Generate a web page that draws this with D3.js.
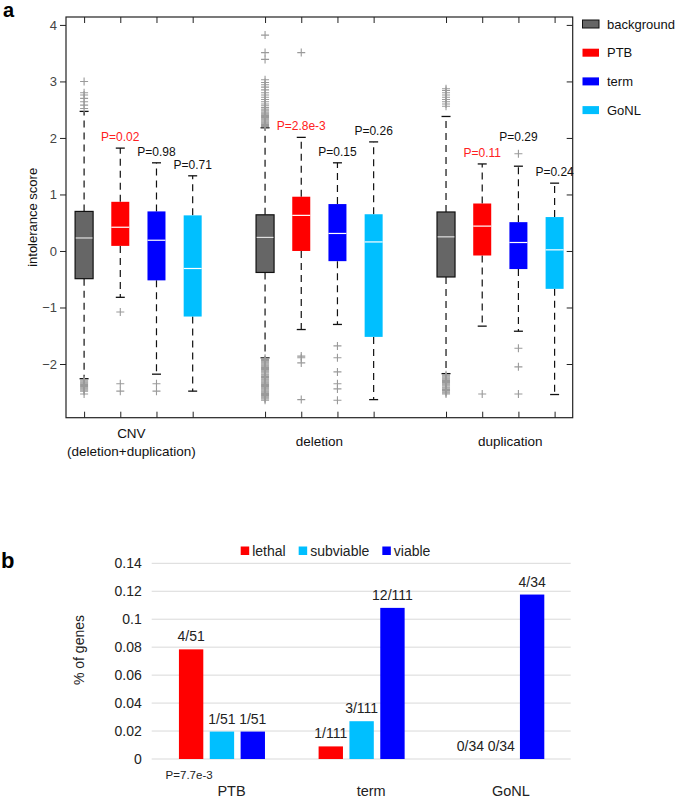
<!DOCTYPE html>
<html><head><meta charset="utf-8">
<script src="https://cdn.jsdelivr.net/npm/d3@7"></script>
<style>
body{margin:0;background:#fff;}
svg{font-family:"Liberation Sans",Arial,Helvetica,sans-serif;}
</style></head>
<body><svg id="c" width="680" height="800"></svg>
<script>
// ---------- Panel a data ----------
const groupsA = ["CNV|(deletion+duplication)", "deletion", "duplication"];
const seriesA = ["background", "PTB", "term", "GoNL"];
const colorsA = ["#666666", "#ff0000", "#0000ff", "#00bfff"];
const yTicksA = [-2, -1, 0, 1, 2, 3, 4];
// per group, per series
const q3 = [[0.70, 0.87, 0.70, 0.63], [0.64, 0.96, 0.83, 0.65], [0.69, 0.84, 0.51, 0.60]];
const med = [[0.23, 0.42, 0.19, -0.31], [0.24, 0.63, 0.31, 0.16], [0.25, 0.44, 0.15, 0.02]];
const q1 = [[-0.49, 0.09, -0.52, -1.16], [-0.38, 0.00, -0.18, -1.52], [-0.46, -0.08, -0.32, -0.67]];
const whiskHi = [[2.47, 1.82, 1.56, 1.33], [2.18, 2.01, 1.56, 1.93], [2.38, 1.54, 1.50, 1.20]];
const whiskLo = [[-2.26, -0.82, -2.18, -2.48], [-1.89, -1.39, -1.30, -2.63], [-2.17, -1.33, -1.42, -2.54]];
const outliers = [
  [
    [3.00, 2.80, 2.76, 2.70, 2.64, 2.58, 2.52, -2.28, -2.30, -2.32, -2.34, -2.36, -2.38, -2.40, -2.42, -2.44, -2.46, -2.48, -2.53],
    [-1.08, -2.35, -2.48],
    [-2.35, -2.48],
    []
  ],
  [
    [3.82, 3.51, 3.39, 3.03, 2.98, 2.94, 2.90, 2.85, 2.80, 2.76, 2.72, 2.68, 2.64, 2.60, 2.57, 2.54, 2.51, 2.48, 2.46, 2.44, 2.42, 2.40, 2.38, 2.36, 2.34, 2.32, 2.30, 2.28, 2.26, 2.24, 2.22, 2.20,
     -1.90, -1.92, -1.94, -1.96, -1.98, -2.00, -2.02, -2.04, -2.06, -2.08, -2.10, -2.12, -2.14, -2.16, -2.18, -2.20, -2.22, -2.24, -2.26, -2.28, -2.30, -2.32, -2.34, -2.36, -2.38, -2.40, -2.42, -2.44, -2.46, -2.48, -2.50, -2.52, -2.54, -2.56, -2.58, -2.60, -2.62, -2.64],
    [3.51, -1.86, -1.89, -1.98, -2.63],
    [-1.68, -1.89, -2.14, -2.35, -2.44, -2.64],
    []
  ],
  [
    [2.87, 2.84, 2.80, 2.76, 2.72, 2.68, 2.64, 2.60, 2.56,
     -2.19, -2.21, -2.23, -2.25, -2.27, -2.29, -2.31, -2.33, -2.35, -2.37, -2.39, -2.41, -2.43, -2.45, -2.47, -2.49, -2.51, -2.53],
    [-2.53],
    [1.72, -1.72, -2.05, -2.53],
    []
  ]
];
const pLabels = [["", "P=0.02", "P=0.98", "P=0.71"], ["", "P=2.8e-3", "P=0.15", "P=0.26"], ["", "P=0.11", "P=0.29", "P=0.24"]];
const pSignif = [[false, true, false, false], [false, true, false, false], [false, true, false, false]];

// ---------- Panel b data ----------
const groupsB = ["PTB", "term", "GoNL"];
const seriesB = ["lethal", "subviable", "viable"];
const colorsB = ["#ff0000", "#00bfff", "#0000ff"];
const countsB = [[4, 1, 1], [1, 3, 12], [0, 0, 4]];
const totalsB = [51, 111, 34];
const yTicksB = [0, 0.02, 0.04, 0.06, 0.08, 0.1, 0.12, 0.14];
const pNoteB = "P=7.7e-3";

const svg = d3.select("#c");

// ================= Panel a =================
const A = {l: 66, r: 572.7, t: 17, b: 417.7};
const x = d3.scaleLinear().domain([0.5, 14.5]).range([A.l, A.r]);
const y = d3.scaleLinear().domain([-2.95, 4.14]).range([A.b, A.t]);
const pos = (g, s) => g * 5 + s + 1;
const boxW = 18, capW = 9;

svg.append("text").attr("x", 3).attr("y", 17).attr("font-size", 20).attr("font-weight", "bold").text("a");

const ga = svg.append("g");
ga.append("rect").attr("x", A.l).attr("y", A.t).attr("width", A.r - A.l).attr("height", A.b - A.t)
  .attr("fill", "none").attr("stroke", "#222").attr("stroke-width", 1.2);

const yAxisL = d3.axisLeft(y).tickValues(yTicksA).tickSize(6).tickPadding(3).tickFormat(d3.format("d"));
const gL = ga.append("g").attr("transform", `translate(${A.l},0)`).call(yAxisL);
gL.select(".domain").remove();
gL.selectAll("line").attr("stroke", "#222");
gL.selectAll("text").attr("font-size", 13).attr("fill", "#444").attr("font-family", "Liberation Sans, Arial, sans-serif");
const gR = ga.append("g").attr("transform", `translate(${A.r},0)`).call(d3.axisRight(y).tickValues(yTicksA).tickSize(-6).tickFormat(""));
gR.select(".domain").remove();
gR.selectAll("line").attr("stroke", "#222");
const allPos = [];
groupsA.forEach((g, gi) => seriesA.forEach((s, si) => allPos.push(pos(gi, si))));
const gT = ga.append("g").attr("transform", `translate(0,${A.t})`).call(d3.axisTop(x).tickValues(allPos).tickSize(-6).tickFormat(""));
gT.select(".domain").remove(); gT.selectAll("line").attr("stroke", "#222");
const gB = ga.append("g").attr("transform", `translate(0,${A.b})`).call(d3.axisBottom(x).tickValues(allPos).tickSize(-6).tickFormat(""));
gB.select(".domain").remove(); gB.selectAll("line").attr("stroke", "#222");

ga.append("text").attr("transform", `translate(37,${(A.t + A.b) / 2}) rotate(-90)`).attr("text-anchor", "middle")
  .attr("font-size", 13).attr("fill", "#111").text("intolerance score");

groupsA.forEach((g, gi) => {
  seriesA.forEach((s, si) => {
    const cx = x(pos(gi, si));
    const gg = ga.append("g");
    gg.append("line").attr("x1", cx).attr("x2", cx).attr("y1", y(q3[gi][si])).attr("y2", y(whiskHi[gi][si]))
      .attr("stroke", "#111").attr("stroke-width", 1.2).attr("stroke-dasharray", "7,5");
    gg.append("line").attr("x1", cx).attr("x2", cx).attr("y1", y(q1[gi][si])).attr("y2", y(whiskLo[gi][si]))
      .attr("stroke", "#111").attr("stroke-width", 1.2).attr("stroke-dasharray", "7,5");
    [whiskHi[gi][si], whiskLo[gi][si]].forEach(v => {
      gg.append("line").attr("x1", cx - capW / 2).attr("x2", cx + capW / 2).attr("y1", y(v)).attr("y2", y(v))
        .attr("stroke", "#111").attr("stroke-width", 1.3);
    });
    gg.append("rect").attr("x", cx - boxW / 2).attr("width", boxW)
      .attr("y", y(q3[gi][si])).attr("height", y(q1[gi][si]) - y(q3[gi][si]))
      .attr("fill", colorsA[si]).attr("stroke", si === 0 ? "#111" : "none").attr("stroke-width", 1.2);
    gg.append("line").attr("x1", cx - boxW / 2 + (si === 0 ? 0.6 : 0)).attr("x2", cx + boxW / 2 - (si === 0 ? 0.6 : 0))
      .attr("y1", y(med[gi][si])).attr("y2", y(med[gi][si]))
      .attr("stroke", si === 0 ? "#e0e0e0" : "#ffffff").attr("stroke-width", 1.2);
    outliers[gi][si].forEach(v => {
      const py = y(v);
      gg.append("path").attr("d", `M${cx - 4},${py}H${cx + 4}M${cx},${py - 4}V${py + 4}`)
        .attr("stroke", "#9a9a9a").attr("stroke-width", 1.1).attr("fill", "none");
    });
    if (pLabels[gi][si]) {
      const near = outliers[gi][si].filter(v => v > whiskHi[gi][si] && v < whiskHi[gi][si] + 0.5);
      const top = near.length ? d3.max(near) : whiskHi[gi][si];
      const off = near.length ? 13 : 7;
      ga.append("text").attr("x", cx).attr("y", y(top) - off).attr("text-anchor", "middle")
        .attr("font-size", 12).attr("fill", pSignif[gi][si] ? "#ff2020" : "#111").text(pLabels[gi][si]);
    }
  });
  const lines = g.split("|");
  const gcx = (x(pos(gi, 0)) + x(pos(gi, 3))) / 2 + [-7, 0, 10][gi];
  lines.forEach((ln, li) => {
    ga.append("text").attr("x", gcx).attr("y", (lines.length > 1 ? 438 : 446) + li * 17.5).attr("text-anchor", "middle")
      .attr("font-size", 13.5).attr("fill", "#111").text(ln);
  });
});

seriesA.forEach((s, i) => {
  const ly = 24 + i * 28.7;
  ga.append("rect").attr("x", 582.5).attr("y", ly - 4).attr("width", 16.5).attr("height", 8)
    .attr("fill", colorsA[i]).attr("stroke", i === 0 ? "#111" : "none").attr("stroke-width", 1);
  ga.append("text").attr("x", 607).attr("y", ly + 4.5).attr("font-size", 13).attr("fill", "#111").text(s);
});

// ================= Panel b =================
const B = {l: 151.7, r: 570.7, t: 563.3, b: 759};
const x0 = d3.scaleBand().domain(groupsB).range([B.l, B.r]).padding(0);
const x1 = d3.scaleBand().domain(seriesB).range([x0.bandwidth() * 0.195, x0.bandwidth() * 0.811]).paddingInner(0.21).paddingOuter(0);
const yb = d3.scaleLinear().domain([0, 0.14]).range([B.b, B.t]);

svg.append("text").attr("x", 1).attr("y", 568).attr("font-size", 22).attr("font-weight", "bold").text("b");

const gb = svg.append("g");
gb.selectAll("line.grid").data(yTicksB).join("line").attr("class", "grid")
  .attr("x1", B.l).attr("x2", B.r).attr("y1", d => yb(d)).attr("y2", d => yb(d))
  .attr("stroke", "#d9d9d9").attr("stroke-width", 1);
const gyb = gb.append("g").attr("transform", `translate(${B.l - 10},0)`)
  .call(d3.axisLeft(yb).tickValues(yTicksB).tickSize(0).tickPadding(0).tickFormat(d => d === 0 ? "0" : String(+d.toFixed(2))));
gyb.select(".domain").remove();
gyb.selectAll("text").attr("font-size", 14).attr("fill", "#222").attr("font-family", "Liberation Sans, Arial, sans-serif");
gb.append("text").attr("transform", `translate(84,650) rotate(-90)`).attr("text-anchor", "middle")
  .attr("font-size", 14).attr("fill", "#222").text("% of genes");

groupsB.forEach((g, gi) => {
  seriesB.forEach((s, si) => {
    const v = countsB[gi][si] / totalsB[gi];
    const bx = x0(g) + x1(s);
    gb.append("rect").attr("x", bx).attr("width", x1.bandwidth()).attr("y", yb(v)).attr("height", yb(0) - yb(v))
      .attr("fill", colorsB[si]);
    gb.append("text").attr("x", bx + x1.bandwidth() / 2).attr("y", yb(v) - 8).attr("text-anchor", "middle")
      .attr("font-size", 14).attr("fill", "#222").text(`${countsB[gi][si]}/${totalsB[gi]}`);
  });
  gb.append("text").attr("x", x0(g) + x0.bandwidth() / 2 + 10).attr("y", 796).attr("text-anchor", "middle")
    .attr("font-size", 14.5).attr("fill", "#222").text(g);
});
gb.append("text").attr("x", x0("PTB") + x1("lethal") + x1.bandwidth() / 2 - 2).attr("y", 779).attr("text-anchor", "middle")
  .attr("font-size", 11.5).attr("fill", "#222").text(pNoteB);

let lx = 240.7;
seriesB.forEach((s, i) => {
  gb.append("rect").attr("x", lx).attr("y", 546.5).attr("width", 8.5).attr("height", 8.5).attr("fill", colorsB[i]);
  const t = gb.append("text").attr("x", lx + 11.5).attr("y", 555.5).attr("font-size", 14).attr("fill", "#222").text(s);
  lx += 11.5 + t.node().getComputedTextLength() + 13;
});
</script></body></html>
